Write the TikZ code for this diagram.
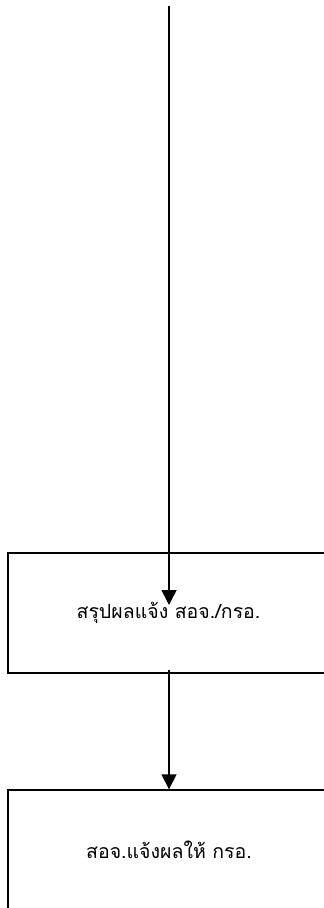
\documentclass[tikz,border=0pt]{standalone}
\usepackage{fontspec}
\newfontfamily\thaifont[Script=Thai]{Loma}
\usetikzlibrary{arrows.meta}
\begin{document}
\begin{tikzpicture}[x=1pt,y=1pt,
  stepbox/.style={draw=black,line width=1.4pt,rectangle,inner sep=0pt,font=\thaifont\fontsize{19.5}{23}\selectfont},
  flow/.style={line width=1.5pt,-{Triangle[length=15pt,width=15pt]}}]
\useasboundingbox (0,0) rectangle (324,-908);
\clip (0,0) rectangle (324,-908);
\node[stepbox,minimum width=321pt,minimum height=120pt] (b1) at (168.5,-613) {สรุปผลแจ้ง สอจ./กรอ.};
\node[stepbox,minimum width=322pt,minimum height=120pt] (b2) at (169,-850) {สอจ.แจ้งผลให้ กรอ.};
\coordinate (top) at (169,-6);
\coordinate (tip1) at (169,-605);
\coordinate (s2) at (169,-670);
\draw[flow] (top) -- (tip1);
\draw[flow] (s2) -- (b2.north);
\end{tikzpicture}
\end{document}
